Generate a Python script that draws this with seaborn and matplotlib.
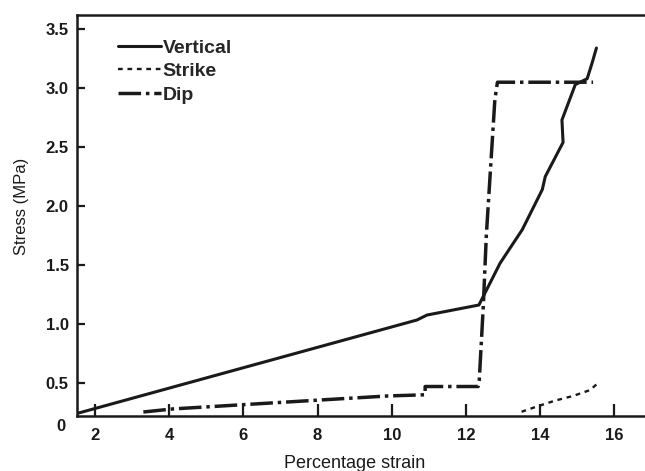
import matplotlib
matplotlib.use("Agg")
import matplotlib.pyplot as plt
import seaborn as sns
import pandas as pd

# ---- data ----
vertical_x = [1.55, 10.68, 10.95, 12.35, 12.92, 13.33, 13.52, 14.06, 14.14, 14.62, 14.59, 14.95, 15.27, 15.40, 15.52]
vertical_y = [0.245, 1.034, 1.076, 1.161, 1.515, 1.71, 1.80, 2.14, 2.25, 2.54, 2.73, 3.03, 3.08, 3.21, 3.34]

strike_x = [13.50, 13.91, 14.40, 14.89, 15.35, 15.60]
strike_y = [0.256, 0.30, 0.35, 0.39, 0.44, 0.51]

dip_x = [3.3, 4.1, 8.09, 9.9, 10.9, 10.9, 12.33, 12.36, 12.47, 12.55, 12.78, 12.85, 15.43]
dip_y = [0.254, 0.28, 0.356, 0.39, 0.40, 0.47, 0.47, 0.525, 1.16, 1.75, 2.90, 3.05, 3.05]

x_ticks = [2, 4, 6, 8, 10, 12, 14, 16]
y_ticks = [0.5, 1.0, 1.5, 2.0, 2.5, 3.0, 3.5]
y_tick_labels = ["0.5", "1.0", "1.5", "2.0", "2.5", "3.0", "3.5"]

sns.set_style("ticks")
plt.rcParams["font.family"] = ["Liberation Sans", "DejaVu Sans"]

fig = plt.figure(figsize=(6.45, 4.71), dpi=100)
ax = fig.add_axes([77 / 645, 1 - 416 / 471, 1 - 77 / 645, (416 - 15) / 471])

df_v = pd.DataFrame({"x": vertical_x, "y": vertical_y})
df_s = pd.DataFrame({"x": strike_x, "y": strike_y})
df_d = pd.DataFrame({"x": dip_x, "y": dip_y})

sns.lineplot(data=df_v, x="x", y="y", sort=False, estimator=None, ax=ax,
             color="#1a1a1a", lw=2.2, label="Vertical", solid_joinstyle="round")
sns.lineplot(data=df_s, x="x", y="y", sort=False, estimator=None, ax=ax,
             color="#1a1a1a", lw=1.7, linestyle=(0, (2.0, 2.0)), label="Strike")
sns.lineplot(data=df_d, x="x", y="y", sort=False, estimator=None, ax=ax,
             color="#1a1a1a", lw=2.5, linestyle=(0, (6.5, 1.4, 1.0, 1.4)), label="Dip")

ax.set_xlim(1.51, 16.83)
ax.set_ylim(0.22, 3.62)

ax.set_xticks(x_ticks)
ax.set_xticklabels([str(t) for t in x_ticks], fontsize=12, fontweight="bold")
ax.set_yticks(y_ticks)
ax.set_yticklabels(y_tick_labels, fontsize=12, fontweight="bold")

ax.tick_params(axis="x", direction="in", length=9, width=1.6, pad=9, colors="#1a1a1a")
ax.tick_params(axis="y", direction="in", length=6, width=1.6, pad=6, colors="#1a1a1a")

for side in ["left", "bottom", "top"]:
    ax.spines[side].set_linewidth(1.8)
    ax.spines[side].set_color("#1a1a1a")
    ax.spines[side].set_visible(True)
ax.spines["right"].set_visible(False)

ax.text(-0.028, -0.025, "0", transform=ax.transAxes, fontsize=12, fontweight="bold",
        ha="center", va="center", color="#1a1a1a")

ax.set_xlabel("Percentage strain", fontsize=13, color="#1a1a1a")
ax.xaxis.set_label_coords(0.489, -0.098)
ax.set_ylabel("Stress (MPa)", fontsize=12, color="#1a1a1a")
ax.yaxis.set_label_coords(-0.084, 0.524)

leg = ax.legend(loc="upper left", bbox_to_anchor=(0.072, 0.94), frameon=False,
                prop={"weight": "bold", "size": 14}, handlelength=2.2,
                handletextpad=0.1, labelspacing=0.3, borderpad=0, borderaxespad=0)

fig.savefig("out.png", dpi=100)
